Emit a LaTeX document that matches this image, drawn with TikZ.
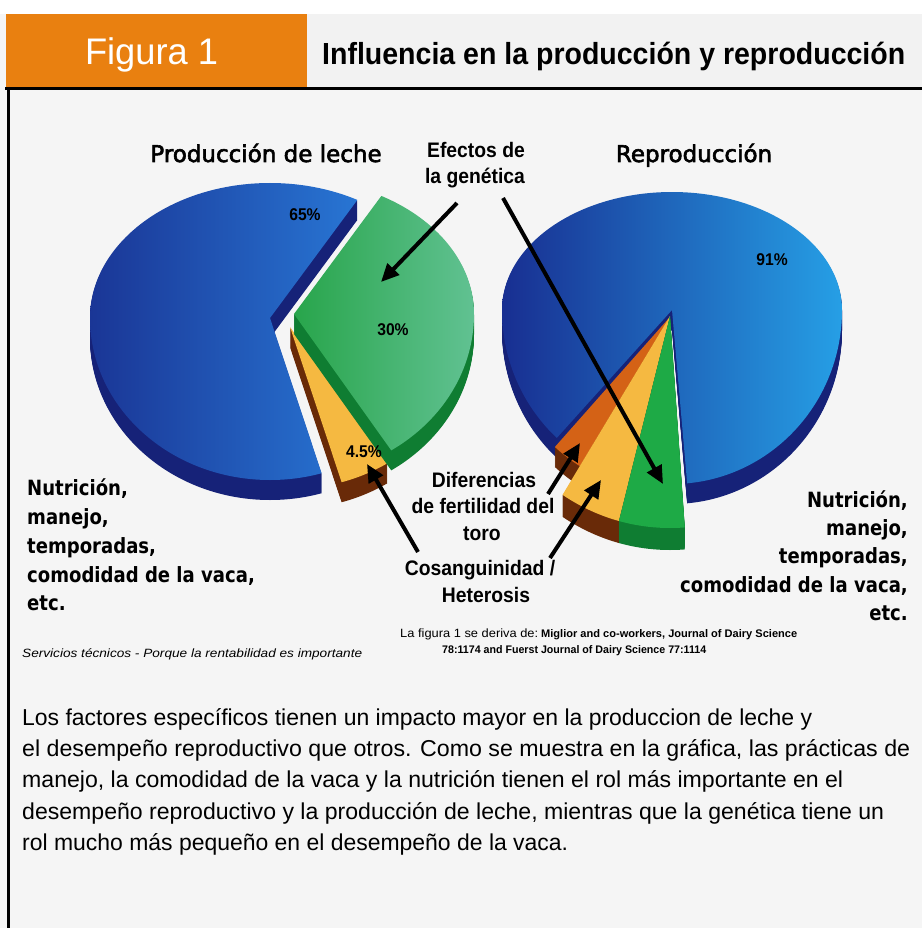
\documentclass[tikz,border=0pt]{standalone}
\usepackage{fontspec}
\usepackage{graphicx}
\usetikzlibrary{arrows.meta}
\setmainfont{Liberation Sans}
\newfontfamily\nbfont[FakeStretch=0.92]{Liberation Sans}
\newfontfamily\vbfont[FakeStretch=0.86]{DejaVu Sans}
\newfontfamily\ptfont[FakeBold=2.5]{DejaVu Sans}
\newsavebox\fitbox
\newcommand\fitw[2]{\sbox\fitbox{#2}\pgfmathsetmacro\fitsc{#1/\the\wd\fitbox}\scalebox{\fitsc}[1]{\usebox\fitbox}}
\definecolor{bgc}{RGB}{245,245,245}
\definecolor{hdg}{RGB}{242,242,242}
\definecolor{orH}{RGB}{233,128,16}
\definecolor{blA}{RGB}{26,54,150}
\definecolor{blM}{RGB}{30,68,172}
\definecolor{blB}{RGB}{40,118,212}
\definecolor{blD}{RGB}{22,34,120}
\definecolor{blC}{RGB}{24,46,145}
\definecolor{blN}{RGB}{30,78,188}
\definecolor{blE}{RGB}{38,160,230}
\definecolor{grA}{RGB}{40,165,75}
\definecolor{grB}{RGB}{100,195,150}
\definecolor{grD}{RGB}{15,125,50}
\definecolor{grR}{RGB}{30,170,70}
\definecolor{yeA}{RGB}{245,185,65}
\definecolor{brD}{RGB}{105,42,8}
\definecolor{orA}{RGB}{212,98,22}
\begin{document}
\begin{tikzpicture}[x=1pt,y=-1pt,
  lbl/.style={inner sep=0pt,anchor=base},
  arr/.style={line width=4pt,-{Triangle[length=18pt,width=16pt]}}]
\useasboundingbox (0,0) rectangle (922,928);
% background and header
\fill[bgc] (0,0) rectangle (922,928);
\fill[white] (0,0) rectangle (922,14);
\fill[orH] (6,14) rectangle (307,87);
\fill[hdg] (307,14) rectangle (922,87);
\draw[line width=3pt] (5,88.5) -- (922,88.5);
\draw[line width=3pt] (8.5,87) -- (8.5,928);
\node[lbl,text=white] (fig) at (151.5,65) {\fitw{133}{\fontsize{37}{40}\selectfont Figura 1}};
\node[lbl,anchor=base west] (title) at (322,65) {\fitw{583}{\fontsize{30.5}{34}\selectfont\bfseries Influencia en la producción y reproducción}};

% ---------- left pie ----------
\def\lpie{(90,318) arc[start angle=180,end angle=360,x radius=180,y radius=135] arc[start angle=0,end angle=180,x radius=180,y radius=162] -- cycle}
\def\lblue{(0,0) -- (71.6:400) -- (150:400) -- (230:400) -- (306.5:400) -- cycle}
\def\lgreen{(0,0) -- (-53.5:400) -- (0:400) -- (54.5:400) -- cycle}
\def\lyellow{(0,0) -- (54.5:400) -- (71.6:400) -- cycle}
\foreach \d in {1,...,20}{\begin{scope}[shift={(0,\d)}]\clip[shift={(270,318)}] \lblue; \fill[blD] \lpie;\end{scope}}
\begin{scope}\clip[shift={(270,318)}] \lblue; \clip \lpie;
  \shade[left color=blA,middle color=blM,right color=blB] (90,180) rectangle (360,490);\end{scope}
\foreach \d in {1,...,20}{\begin{scope}[shift={(20,9+\d)}]\clip[shift={(270,318)}] \lyellow; \fill[brD] \lpie;\end{scope}}
\begin{scope}[shift={(20,9)}]\clip[shift={(270,318)}] \lyellow; \fill[yeA] \lpie;\end{scope}
\foreach \d in {1,...,20}{\begin{scope}[shift={(24,-4+\d)}]\clip[shift={(270,318)}] \lgreen; \fill[grD] \lpie;\end{scope}}
\begin{scope}[shift={(24,-4)}]\clip[shift={(270,318)}] \lgreen; \clip \lpie;
  \shade[left color=grA,right color=grB] (270,180) rectangle (460,480);\end{scope}

% ---------- right pie ----------
\def\rpie{(502,310) arc[start angle=180,end angle=360,x radius=170,y radius=118] arc[start angle=0,end angle=180,x radius=170,y radius=174] -- cycle}
\def\spie{(472,310) arc[start angle=180,end angle=360,x radius=200,y radius=200] arc[start angle=0,end angle=180,x radius=200,y radius=212] -- cycle}
\def\rblue{(0,0) -- (132:400) -- (210:400) -- (290:400) -- (370:400) -- (445:400) -- cycle}
\def\rorange{(0,0) -- (121:400) -- (131.5:400) -- cycle}
\def\ryellow{(0,0) -- (104:400) -- (121:400) -- cycle}
\def\rgreen{(0,0) -- (86:400) -- (104:400) -- cycle}
\foreach \d in {1,...,20}{\begin{scope}[shift={(0,\d)}]\clip[shift={(672,310)}] \rblue; \fill[blD] \rpie;\end{scope}}
\begin{scope}\clip[shift={(672,310)}] \rblue; \clip \rpie;
  \shade[left color=blC,middle color=blN,right color=blE] (500,188) rectangle (845,490);\end{scope}
\foreach \d in {1,...,20}{\begin{scope}[shift={(-3,8+\d)}]\clip[shift={(672,310)}] \rorange; \fill[brD] \rpie;\end{scope}}
\begin{scope}[shift={(-3,8)}]\clip[shift={(672,310)}] \rorange; \fill[orA] \rpie;\end{scope}
\foreach \d in {1,...,22}{\begin{scope}[shift={(-2,6+\d)}]\clip[shift={(672,310)}] \ryellow; \fill[brD] \spie;\end{scope}}
\begin{scope}[shift={(-2,6)}]\clip[shift={(672,310)}] \ryellow; \fill[yeA] \spie;\end{scope}
\foreach \d in {1,...,22}{\begin{scope}[shift={(-2,6+\d)}]\clip[shift={(672,310)}] \rgreen; \fill[grD] \spie;\end{scope}}
\begin{scope}[shift={(-2,6)}]\clip[shift={(672,310)}] \rgreen; \fill[grR] \spie;\end{scope}

% ---------- percentages ----------
\node[lbl] (p65) at (305,220) {\fontsize{17}{20}\selectfont\nbfont\bfseries 65\%};
\node[lbl] (p30) at (393,335) {\fontsize{17}{20}\selectfont\nbfont\bfseries 30\%};
\node[lbl] (p45) at (364,457) {\fontsize{17}{20}\selectfont\nbfont\bfseries 4.5\%};
\node[lbl] (p91) at (772,265) {\fontsize{17}{20}\selectfont\nbfont\bfseries 91\%};

% ---------- titles ----------
\node[lbl] (tl) at (266,162) {\fontsize{23}{26}\selectfont\ptfont Producción de leche};
\node[lbl] (tr) at (694,162) {\fontsize{23}{26}\selectfont\ptfont Reproducción};

% ---------- middle labels ----------
\node[lbl] (ef1) at (476,158) {\fontsize{21}{24}\selectfont\nbfont\bfseries Efectos de};
\node[lbl] (ef2) at (475,183) {\fontsize{21}{24}\selectfont\nbfont\bfseries la genética};
\node[lbl] (df1) at (484,487) {\fontsize{21}{24}\selectfont\nbfont\bfseries Diferencias};
\node[lbl] (df2) at (483,513) {\fontsize{21}{24}\selectfont\nbfont\bfseries de fertilidad del};
\node[lbl] (df3) at (482,540) {\fontsize{21}{24}\selectfont\nbfont\bfseries toro};
\node[lbl] (cs1) at (480,575) {\fontsize{21}{24}\selectfont\nbfont\bfseries Cosanguinidad /};
\node[lbl] (cs2) at (486,602) {\fontsize{21}{24}\selectfont\nbfont\bfseries Heterosis};

% ---------- side labels ----------
\node[lbl,anchor=base west] (nl1) at (27,495) {\fontsize{21}{24}\selectfont\vbfont\bfseries Nutrición,};
\node[lbl,anchor=base west] (nl2) at (27,524) {\fontsize{21}{24}\selectfont\vbfont\bfseries manejo,};
\node[lbl,anchor=base west] (nl3) at (27,553) {\fontsize{21}{24}\selectfont\vbfont\bfseries temporadas,};
\node[lbl,anchor=base west] (nl4) at (27,582) {\fontsize{21}{24}\selectfont\vbfont\bfseries comodidad de la vaca,};
\node[lbl,anchor=base west] (nl5) at (27,610) {\fontsize{21}{24}\selectfont\vbfont\bfseries etc.};
\node[lbl,anchor=base east] (nr1) at (908,507) {\fontsize{21}{24}\selectfont\vbfont\bfseries Nutrición,};
\node[lbl,anchor=base east] (nr2) at (908,535) {\fontsize{21}{24}\selectfont\vbfont\bfseries manejo,};
\node[lbl,anchor=base east] (nr3) at (908,563) {\fontsize{21}{24}\selectfont\vbfont\bfseries temporadas,};
\node[lbl,anchor=base east] (nr4) at (908,592) {\fontsize{21}{24}\selectfont\vbfont\bfseries comodidad de la vaca,};
\node[lbl,anchor=base east] (nr5) at (908,620) {\fontsize{21}{24}\selectfont\vbfont\bfseries etc.};

% ---------- arrows ----------
\coordinate (a1s) at (457,203); \coordinate (a1e) at (381,282);
\coordinate (a2s) at (503,198); \coordinate (a2e) at (663,484);
\coordinate (a3s) at (548,494); \coordinate (a3e) at (580,443);
\coordinate (a4s) at (418,552); \coordinate (a4e) at (367,464);
\coordinate (a5s) at (550,558); \coordinate (a5e) at (601,480);
\draw[arr] (a1s) -- (a1e);
\draw[arr] (a2s) -- (a2e);
\draw[arr] (a3s) -- (a3e);
\draw[arr] (a4s) -- (a4e);
\draw[arr] (a5s) -- (a5e);

% ---------- footer ----------
\node[lbl,anchor=base west] (serv) at (22,657) {\fitw{340}{\fontsize{12}{14}\selectfont\itshape Servicios técnicos - Porque la rentabilidad es importante}};
\node[lbl,anchor=base west] (ref1) at (400,637) {\fitw{138}{\fontsize{12}{14}\selectfont La figura 1 se deriva de:}};
\node[lbl,anchor=base west] (ref2) at (541,637) {\fitw{256}{\fontsize{11}{13}\selectfont\bfseries Miglior and co-workers, Journal of Dairy Science}};
\node[lbl,anchor=base west] (ref3) at (442,653) {\fitw{264}{\fontsize{11}{13}\selectfont\bfseries 78:1174 and Fuerst Journal of Dairy Science 77:1114}};

% ---------- paragraph ----------
\node[lbl,anchor=base west] (t1) at (22,725) {\fitw{790}{\fontsize{23}{26}\selectfont Los factores específicos tienen un impacto mayor en la produccion de leche y}};
\node[lbl,anchor=base west] (t2) at (22,756) {\fitw{888}{\fontsize{23}{26}\selectfont el desempeño reproductivo que otros. Como se muestra en la gráfica, las prácticas de}};
\node[lbl,anchor=base west] (t3) at (22,787) {\fitw{821}{\fontsize{23}{26}\selectfont manejo, la comodidad de la vaca y la nutrición tienen el rol más importante en el}};
\node[lbl,anchor=base west] (t4) at (22,819) {\fitw{862}{\fontsize{23}{26}\selectfont desempeño reproductivo y la producción de leche, mientras que la genética tiene un}};
\node[lbl,anchor=base west] (t5) at (22,850) {\fitw{546}{\fontsize{23}{26}\selectfont rol mucho más pequeño en el desempeño de la vaca.}};
\end{tikzpicture}
\end{document}
